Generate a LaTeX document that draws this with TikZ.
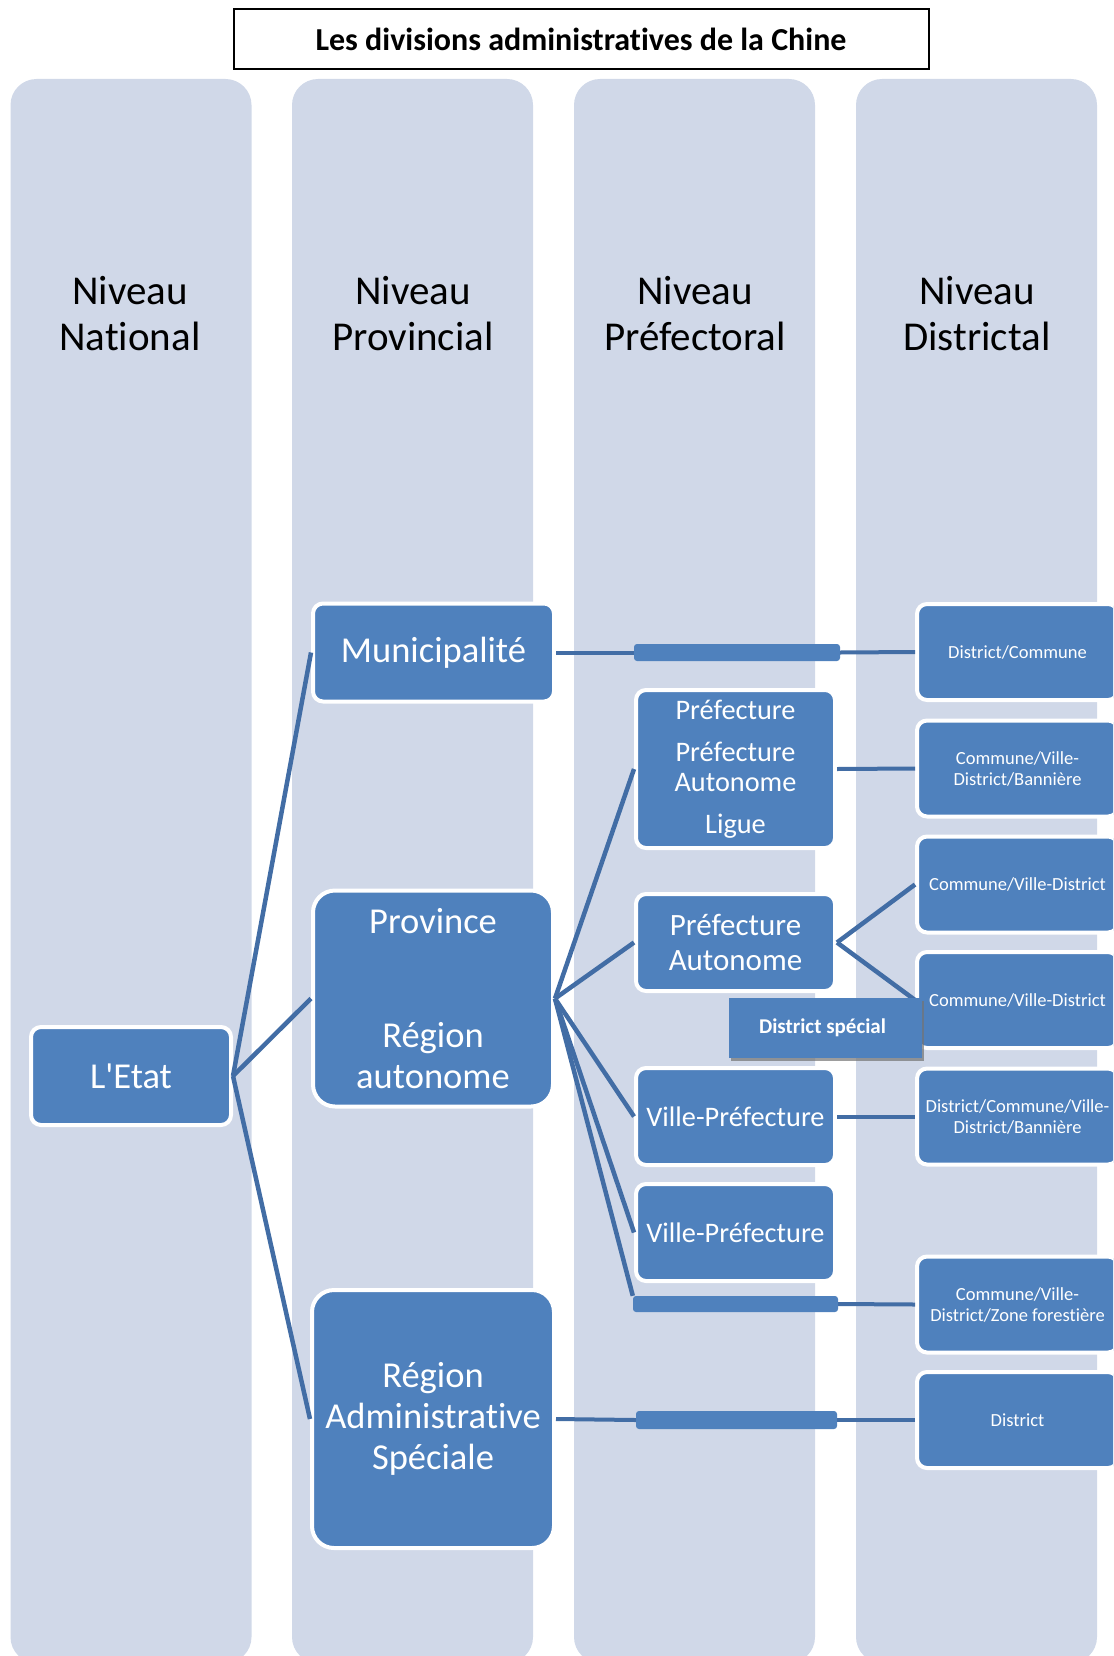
\documentclass[tikz,border=0pt]{standalone}
\usepackage{fontspec}
\setmainfont{Carlito}[Ligatures=NoCommon]
\usetikzlibrary{shadows}
\definecolor{colbg}{HTML}{D0D8E8}
\definecolor{nodeblue}{HTML}{4F81BD}
\definecolor{linkblue}{HTML}{426DA5}
\begin{document}
\begin{tikzpicture}[x=1pt,y=-1pt,
  colstrip/.style={fill=colbg, draw=none, rounded corners=26pt},
  header/.style={align=center, inner sep=0pt, font=\fontsize{41}{46}\selectfont},
  unit/.style={fill=nodeblue, draw=white, line width=4pt, rounded corners=10pt,
    text=white, align=center, inner sep=0pt},
  bigfont/.style={font=\fontsize{36.5}{41}\selectfont},
  midfont/.style={font=\fontsize{28.3}{30}\selectfont},
  smallfont/.style={font=\fontsize{18.5}{21}\selectfont},
  distbox/.style={unit, smallfont, minimum width=201pt, minimum height=96pt},
  prefbox/.style={unit, minimum width=199pt},
  barbox/.style={fill=nodeblue, draw=none, rounded corners=3pt, inner sep=0pt},
  link/.style={draw=linkblue, line width=4.5pt},
  thinlink/.style={draw=linkblue, line width=4pt}]
\useasboundingbox (0,0) rectangle (1113,1656);
\clip (0,0) rectangle (1113,1656);

% columns
\foreach \x in {10.5, 292, 574, 856}
  \fill[colstrip] (\x,79) rectangle ++(241,1584);

% title
\node[draw=black, line width=2pt, fill=white, minimum width=695pt, minimum height=60pt,
  inner sep=0pt, font=\bfseries\fontsize{32}{36}\selectfont] (title) at (581,39)
  {Les divisions administratives de la Chine};

% headers
\node[header] (h1) at (130,314) {Niveau\\National};
\node[header] (h2) at (413,314) {Niveau\\Provincial};
\node[header] (h3) at (695,314) {Niveau\\Préfectoral};
\node[header] (h4) at (977,314) {Niveau\\Districtal};

% national / provincial
\node[unit, bigfont, minimum width=200pt, minimum height=98pt] (etat) at (131,1076) {L\textquotesingle Etat};
\node[unit, bigfont, minimum width=241pt, minimum height=98pt] (muni) at (433.5,652.5) {Municipalité};
\node[unit, bigfont, rounded corners=22pt, minimum width=240pt, minimum height=216pt] (prov) at (433,998.5)
  {Province\\[73pt]Région\\autonome};
\node[unit, bigfont, rounded corners=22pt, minimum width=242pt, minimum height=258pt] (ras) at (433,1419)
  {Région\\Administrative\\Spéciale};

% prefectoral
\node[prefbox, midfont, minimum height=158pt] (pref) at (735.5,769)
  {Préfecture\\[12pt]Préfecture\\Autonome\\[12pt]Ligue};
\node[prefbox, font=\fontsize{31}{35}\selectfont, minimum height=97pt] (prefa) at (735.5,942.5)
  {Préfecture\\Autonome};
\node[prefbox, midfont, minimum height=97pt] (vp1) at (735.5,1116.5) {Ville-Préfecture};
\node[prefbox, midfont, minimum height=97pt] (vp2) at (735.5,1232.5) {Ville-Préfecture};

% bars
\node[barbox, minimum width=206pt, minimum height=17pt] (bar1) at (737,652.5) {};
\node[barbox, minimum width=205pt, minimum height=16pt] (bar2) at (735.5,1304) {};
\node[barbox, minimum width=201pt, minimum height=18pt] (bar3) at (736.5,1420) {};

% districtal
\node[distbox] (r1) at (1017.5,652) {District/Commune};
\node[distbox] (r2) at (1017.5,768.5) {Commune/Ville-\\District/Bannière};
\node[distbox] (r3) at (1017.5,884.5) {Commune/Ville-District};
\node[distbox] (r4) at (1017.5,1000) {Commune/Ville-District};
\node[distbox] (r5) at (1017.5,1116.5) {District/Commune/Ville-\\District/Bannière};
\node[distbox] (r6) at (1017.5,1304.5) {Commune/Ville-\\District/Zone forestière};
\node[distbox] (r7) at (1017.5,1420) {District};

% connectors
\draw[link] (etat.east) -- (muni.west);
\draw[link] (etat.east) -- (prov.west);
\draw[link] (etat.east) -- (ras.west);
\draw[link] (prov.east) -- (pref.west);
\draw[link] (prov.east) -- (prefa.west);
\draw[link] (prov.east) -- (vp1.west);
\draw[link] (prov.east) -- (vp2.west);
\draw[link] (prov.east) -- (bar2.north west);
\draw[thinlink] (muni.east) -- (bar1.west);
\draw[thinlink] (bar1.east) -- (r1.west);
\draw[thinlink] (pref.east) -- (r2.west);
\draw[link] (prefa.east) -- (r3.west);
\draw[link] (prefa.east) -- (r4.west);
\draw[thinlink] (vp1.east) -- (r5.west);
\draw[thinlink] (bar2.east) -- (r6.west);
\draw[thinlink] (ras.east) -- (bar3.west);
\draw[thinlink] (bar3.east) -- (r7.west);

% district special
\node[fill=nodeblue, draw=none, minimum width=193pt, minimum height=60pt, inner sep=0pt,
  text=white, font=\bfseries\fontsize{21}{24}\selectfont,
  drop shadow={shadow xshift=1.5pt, shadow yshift=-2.5pt, opacity=0.7, fill=black!55}]
  (ds) at (825.5,1028) {\hspace*{-6pt}District spécial};
\end{tikzpicture}
\end{document}
